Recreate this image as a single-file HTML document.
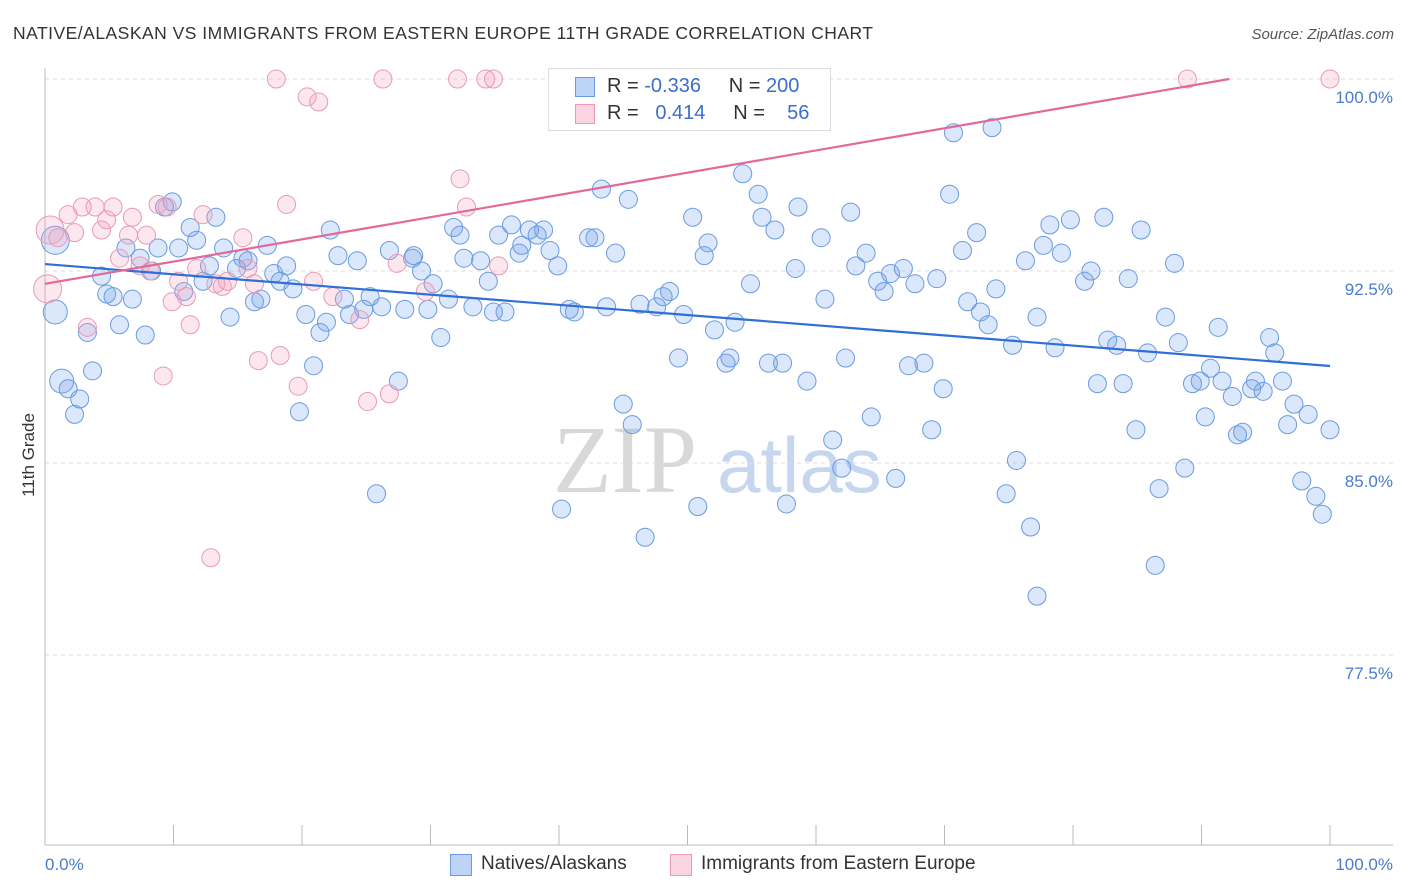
<!DOCTYPE html>
<html><head><meta charset="utf-8"><style>
body{margin:0;background:#fff;font-family:"Liberation Sans",sans-serif}
#c{position:relative;width:1406px;height:892px;overflow:hidden}
</style></head><body>
<div id="c">
<svg id="s" width="1406" height="892" xmlns="http://www.w3.org/2000/svg">
<text x="13" y="39" font-size="17.5" fill="#333" textLength="860" lengthAdjust="spacing">NATIVE/ALASKAN VS IMMIGRANTS FROM EASTERN EUROPE 11TH GRADE CORRELATION CHART</text>
<text x="1394" y="39" font-size="15" fill="#555" font-style="italic" text-anchor="end">Source: ZipAtlas.com</text>
<text transform="translate(34,455) rotate(-90)" font-size="17" fill="#333" text-anchor="middle">11th Grade</text>
<g><text x="553" y="492" font-size="96" font-family="Liberation Serif" fill="#d8d8d8">ZIP</text><text x="717" y="492" font-size="78" fill="#c7d6ef">atlas</text></g>
<g id="grid"></g><g id="pts"></g><g id="lines"></g>
</svg>
<div style="position:absolute;left:548px;top:68px;width:281px;height:61px;border:1px solid #ddd;background:#fff;font-size:20px;color:#333">
<div style="position:absolute;left:26px;top:8px;width:18px;height:18px;background:rgba(110,160,235,.45);border:1px solid #6a9be0"></div>
<div style="position:absolute;left:58px;top:6px;white-space:nowrap">R = <span style="color:#3a6fd0">-0.336</span>&nbsp;&nbsp;&nbsp;&nbsp; N = <span style="color:#3a6fd0">200</span></div>
<div style="position:absolute;left:26px;top:35px;width:18px;height:18px;background:rgba(245,160,190,.45);border:1px solid #e89ab5"></div>
<div style="position:absolute;left:58px;top:33px;white-space:nowrap">R = &nbsp;&nbsp;<span style="color:#3a6fd0">0.414</span>&nbsp;&nbsp;&nbsp;&nbsp; N = &nbsp;&nbsp;&nbsp;<span style="color:#3a6fd0">56</span></div>
</div>
<div style="position:absolute;top:852px;left:0;font-size:19px;color:#333">
<div style="position:absolute;left:450px;top:2px;width:20px;height:20px;background:rgba(110,160,235,.45);border:1px solid #6a9be0"></div>
<div style="position:absolute;left:481px;top:1px;white-space:nowrap">Natives/Alaskans</div>
<div style="position:absolute;left:670px;top:2px;width:20px;height:20px;background:rgba(245,160,190,.45);border:1px solid #e89ab5"></div>
<div style="position:absolute;left:701px;top:1px;white-space:nowrap">Immigrants from Eastern Europe</div>
</div>
</div>
<script>
const blueX=[0.8,0.8,1.3,1.8,2.3,2.7,3.7,3.3,4.4,4.8,5.3,5.8,6.3,6.8,7.4,7.8,8.3,8.8,9.3,9.9,10.4,10.8,11.3,11.8,12.3,12.8,13.3,13.9,14.4,14.9,15.4,15.8,16.3,16.8,17.3,17.8,18.3,18.8,19.3,19.8,20.3,20.9,21.4,21.9,22.2,22.8,23.3,23.7,24.3,24.8,25.3,25.8,26.2,26.8,27.5,28.0,28.6,28.7,29.3,29.8,30.2,30.8,31.4,31.8,32.3,32.6,33.3,33.9,34.5,34.9,35.3,35.8,36.3,36.9,37.1,37.7,38.3,38.8,39.3,39.9,40.2,40.8,41.2,42.3,42.8,43.3,43.7,44.4,45.0,45.4,45.7,46.3,46.7,47.6,48.1,48.6,49.3,49.7,50.4,50.8,51.3,51.6,52.1,53.0,53.3,53.7,54.3,54.9,55.5,55.8,56.3,56.8,57.4,57.7,58.4,58.6,59.3,60.4,60.7,61.3,62.0,62.3,62.7,63.1,63.9,64.3,64.8,65.3,65.8,66.2,66.8,67.2,67.7,68.4,69.0,69.4,69.9,70.4,70.7,71.4,71.8,72.5,72.8,73.4,73.7,74.0,74.8,75.3,75.6,76.3,76.7,77.2,77.2,77.7,78.2,78.6,79.1,79.8,80.9,81.4,81.9,82.4,82.7,83.4,83.9,84.3,84.9,85.3,85.8,86.4,86.7,87.2,87.9,88.2,88.7,89.3,89.9,90.3,90.7,91.3,91.6,92.4,92.8,93.2,93.9,94.2,94.8,95.3,95.7,96.3,96.7,97.2,97.8,98.3,98.9,99.4,100,60.2];
const blueY=[93.7,90.9,88.2,87.9,86.9,87.5,88.6,90.1,92.3,91.6,91.5,90.4,93.4,91.4,93.0,90.0,92.5,93.4,95.0,95.2,93.4,91.7,94.2,93.7,92.1,92.7,94.6,93.4,90.7,92.6,93.0,92.9,91.3,91.4,93.5,92.4,92.1,92.7,91.8,87.0,90.8,88.8,90.1,90.5,94.1,93.1,91.4,90.8,92.9,91.0,91.5,83.8,91.1,93.3,88.2,91.0,93.0,93.1,92.5,91.0,92.0,89.9,91.4,94.2,93.9,93.0,91.1,92.9,92.1,90.9,93.9,90.9,94.3,93.2,93.5,94.1,93.9,94.1,93.3,92.7,83.2,91.0,90.9,93.8,93.8,95.7,91.1,93.2,87.3,95.3,86.5,91.2,82.1,91.1,91.5,91.7,89.1,90.8,94.6,83.3,93.1,93.6,90.2,88.9,89.1,90.5,96.3,92.0,95.5,94.6,88.9,94.1,88.9,83.4,92.6,95.0,88.2,93.8,91.4,85.9,84.8,89.1,94.8,92.7,93.2,86.8,92.1,91.7,92.4,84.4,92.6,88.8,92.0,88.9,86.3,92.2,87.9,95.5,97.9,93.3,91.3,94.0,90.9,90.4,98.1,91.8,83.8,89.6,85.1,92.9,82.5,79.8,90.7,93.5,94.3,89.5,93.2,94.5,92.1,92.5,88.1,94.6,89.8,89.6,88.1,92.2,86.3,94.1,89.3,81.0,84.0,90.7,92.8,89.7,84.8,88.1,88.2,86.8,88.7,90.3,88.2,87.6,86.1,86.2,87.9,88.2,87.8,89.9,89.3,88.2,86.5,87.3,84.3,86.9,83.7,83.0,86.3,98.8];
const pinkX=[0.4,0.2,1.0,1.8,2.3,2.9,3.3,3.9,4.4,4.8,5.3,5.8,6.5,6.8,7.4,7.9,8.2,8.8,9.2,9.5,9.9,10.4,11.0,11.3,11.8,12.3,12.9,13.3,13.8,14.2,15.4,15.8,16.3,16.6,18.0,18.3,18.8,19.7,20.4,20.9,21.3,22.4,24.5,25.1,26.3,26.8,27.4,29.6,32.1,32.3,32.8,34.3,34.9,35.3,88.9,100];
const pinkY=[94.1,91.8,93.8,94.7,94.0,95.0,90.3,95.0,94.1,94.5,95.0,93.0,93.9,94.6,92.7,93.9,92.5,95.1,88.4,95.0,91.3,92.1,91.5,90.4,92.6,94.7,81.3,92.0,91.9,92.1,93.8,92.6,92.0,89.0,100,89.2,95.1,88.0,99.3,92.1,99.1,91.5,90.6,87.4,100,87.7,92.8,91.7,100,96.1,95.0,100,100,92.7,100,100];
const blueTrend=[92.77,88.79];
const pinkTrend=[92.0,100.68];
const yTicks=[100,92.5,85,77.5];
const yTickLabels=["100.0%","92.5%","85.0%","77.5%"];
const NS="http://www.w3.org/2000/svg";
const X0=45,X1=1330,Ytop=79,pxPer=25.6;
function sx(v){return X0+(X1-X0)*v/100;}
function sy(v){return Ytop+(100-v)*pxPer;}
function mk(tag,attrs,parent){const e=document.createElementNS(NS,tag);for(const k in attrs)e.setAttribute(k,attrs[k]);document.getElementById(parent).appendChild(e);return e;}
yTicks.forEach((t,i)=>{
 const l=mk('line',{x1:45,x2:1393,y1:sy(t),y2:sy(t),stroke:'#ddd','stroke-dasharray':'4,4'},'grid');
 
 
 const tx=mk('text',{x:1393,y:sy(t)+24,'font-size':17,fill:'#4a7bd0','text-anchor':'end'},'grid');
 tx.textContent=yTickLabels[i];
 
 
});
const ax=mk('line',{x1:45,x2:1393,y1:845,y2:845,stroke:'#bbb'},'grid');


const ay=mk('line',{x1:45,x2:45,y1:68,y2:845,stroke:'#bbb'},'grid');


for(let k=0;k<=10;k++){
 const t=mk('line',{x1:sx(k*10),x2:sx(k*10),y1:825,y2:845,stroke:'#bbb'},'grid');
 
 
}
const xl0=mk('text',{x:45,y:870,'font-size':17,fill:'#4a7bd0'},'grid');xl0.textContent='0.0%';


const xl1=mk('text',{x:1393,y:870,'font-size':17,fill:'#4a7bd0','text-anchor':'end'},'grid');xl1.textContent='100.0%';


blueX.forEach((x,i)=>{
 const r=(i<3)?(i==0?14:12):9;
 const c=mk('circle',{cx:sx(x),cy:sy(blueY[i]),r:r,fill:'rgba(110,160,235,0.25)',stroke:'#6a9be0','stroke-width':1},'pts');
 
 
});
pinkX.forEach((x,i)=>{
 const r=(i<2)?14:9;
 const c=mk('circle',{cx:sx(x),cy:sy(pinkY[i]),r:r,fill:'rgba(245,160,190,0.25)',stroke:'#e89ab5','stroke-width':1},'pts');
 
 
});
const bl=mk('line',{x1:sx(0),y1:sy(blueTrend[0]),x2:sx(100),y2:sy(blueTrend[1]),stroke:'#2f6fd6','stroke-width':2.2},'lines');


const slope=(pinkTrend[1]-pinkTrend[0])/100;
const xe=Math.min(100,(100-pinkTrend[0])/slope);
const pl=mk('line',{x1:sx(0),y1:sy(pinkTrend[0]),x2:sx(xe),y2:sy(pinkTrend[0]+slope*xe),stroke:'#e4689a','stroke-width':2.2},'lines');


</script>
</body></html>
